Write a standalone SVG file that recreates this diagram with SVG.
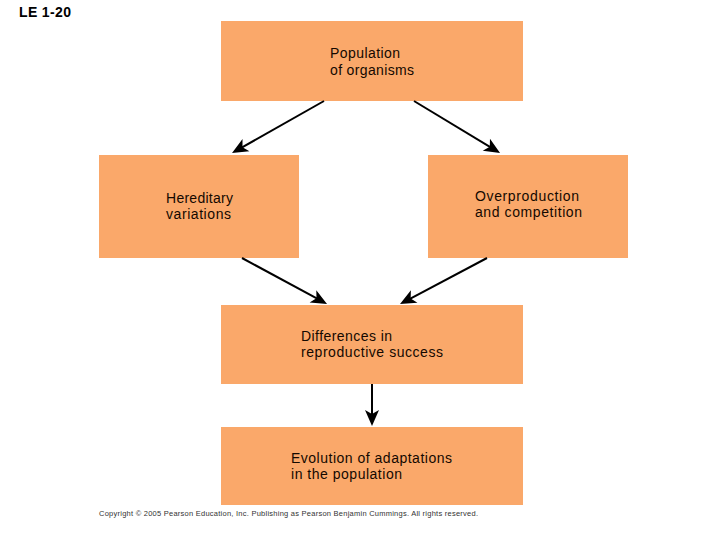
<svg xmlns="http://www.w3.org/2000/svg" width="720" height="540" viewBox="0 0 720 540">
  <style>
    .box { fill: #FAA86A; }
    .lbl { font-family: "Liberation Sans", Arial, sans-serif; font-size: 14px; fill: #140800; }
    .conn { stroke: #000; stroke-width: 2; fill: none; }
  </style>
  <defs>
    <marker id="arrow" viewBox="-9 -8 18 16" refX="0" refY="0" markerWidth="18" markerHeight="16" markerUnits="userSpaceOnUse" orient="auto">
      <path d="M8,0 L-8,-7 L-4,0 L-8,7 Z" fill="#000"/>
    </marker>
  </defs>
  <rect width="720" height="540" fill="#fff"/>
  <text x="19" y="17" font-family="Liberation Sans, Arial, sans-serif" font-size="14" font-weight="bold" textLength="52" fill="#000">LE 1-20</text>

  <g id="population">
    <rect class="box" x="221" y="21" width="302" height="80"/>
    <text class="lbl" x="330" y="58" textLength="70">Population</text>
    <text class="lbl" x="330" y="75" textLength="84">of organisms</text>
  </g>
  <g id="hereditary">
    <rect class="box" x="99" y="155" width="200" height="103"/>
    <text class="lbl" x="166" y="203" textLength="67">Hereditary</text>
    <text class="lbl" x="166" y="219" textLength="65">variations</text>
  </g>
  <g id="overproduction">
    <rect class="box" x="428" y="155" width="200" height="103"/>
    <text class="lbl" x="475" y="201" textLength="104">Overproduction</text>
    <text class="lbl" x="475" y="217" textLength="107">and competition</text>
  </g>
  <g id="differences">
    <rect class="box" x="221" y="305" width="302" height="79"/>
    <text class="lbl" x="301" y="341" textLength="91">Differences in</text>
    <text class="lbl" x="301" y="357" textLength="142">reproductive success</text>
  </g>
  <g id="evolution">
    <rect class="box" x="221" y="427" width="302" height="78"/>
    <text class="lbl" x="291" y="463" textLength="161">Evolution of adaptations</text>
    <text class="lbl" x="291" y="479" textLength="111">in the population</text>
  </g>

  <g id="connectors">
    <line class="conn" x1="324" y1="101" x2="239" y2="149.1" marker-end="url(#arrow)"/>
    <line class="conn" x1="414" y1="101" x2="493.2" y2="148.9" marker-end="url(#arrow)"/>
    <line class="conn" x1="242" y1="258" x2="320" y2="300.2" marker-end="url(#arrow)"/>
    <line class="conn" x1="487" y1="258" x2="407.1" y2="300.3" marker-end="url(#arrow)"/>
    <line class="conn" x1="372" y1="384" x2="372" y2="418" marker-end="url(#arrow)"/>
  </g>

  <text x="99" y="516" font-family="Liberation Sans, Arial, sans-serif" font-size="7.5" fill="#333" textLength="379">Copyright © 2005 Pearson Education, Inc. Publishing as Pearson Benjamin Cummings. All rights reserved.</text>
</svg>
